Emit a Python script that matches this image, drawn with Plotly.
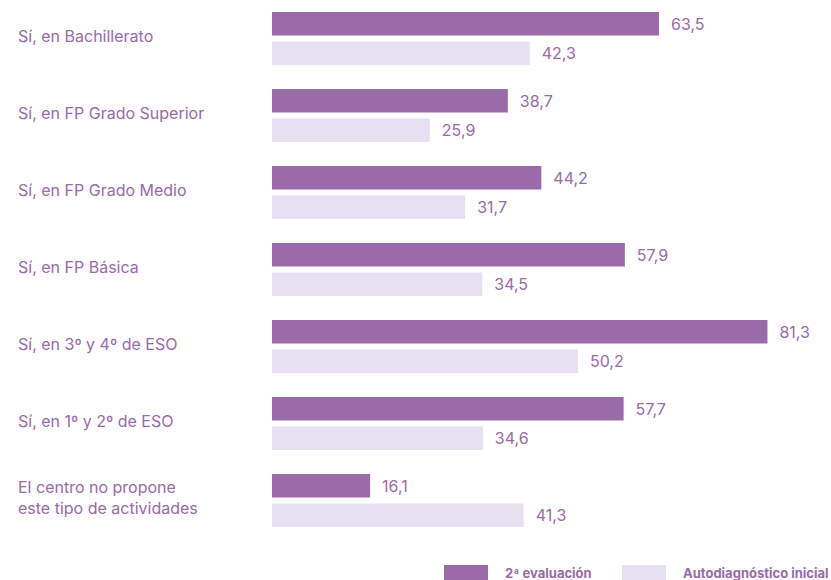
import plotly.graph_objects as go

categories = [
    "Sí, en Bachillerato",
    "Sí, en FP Grado Superior",
    "Sí, en FP Grado Medio",
    "Sí, en FP Básica",
    "Sí, en 3º y 4º de ESO",
    "Sí, en 1º y 2º de ESO",
    "El centro no propone<br>este tipo de actividades",
]
segunda = [63.5, 38.7, 44.2, 57.9, 81.3, 57.7, 16.1]
inicial = [42.3, 25.9, 31.7, 34.5, 50.2, 34.6, 41.3]
series_names = ["2ª evaluación", "Autodiagnóstico inicial"]

DARK = "#9a6aa9"
LIGHT = "#e7e0f0"
TXT = "#9a6aa9"
FONT = "Inter, Arial, sans-serif"

W, H = 831, 580
L, R, T, B = 272, 5, 0, 41
PW = W - L - R


def px_x(p):
    return (p - L) / PW


def px_y(p):
    return 1 - (p - T) / (H - T - B)


fig = go.Figure()
for name, vals, col in [(series_names[0], segunda, DARK), (series_names[1], inicial, LIGHT)]:
    fig.add_trace(go.Bar(
        y=categories, x=vals, orientation="h", name=name,
        marker=dict(color=col, line=dict(width=0)),
        text=[f"\u00a0\u00a0{v:.1f}".replace(".", ",") for v in vals],
        textposition="outside", cliponaxis=False,
        textfont=dict(color=TXT, size=16, family=FONT),
        showlegend=False, hoverinfo="skip",
    ))

# category labels, left aligned
for c in categories:
    fig.add_annotation(x=px_x(16), xref="paper", y=c, yref="y", yshift=3, text=c,
                       xanchor="left", yanchor="middle", align="left", showarrow=False,
                       font=dict(color=TXT, size=16, family=FONT))

# legend drawn by hand
for (x0, x1, tx, col, name) in [(444, 488, 503, DARK, series_names[0]),
                                  (622, 666, 681, LIGHT, series_names[1])]:
    fig.add_shape(type="rect", xref="paper", yref="paper",
                  x0=px_x(x0), x1=px_x(x1), y0=px_y(580), y1=px_y(565),
                  fillcolor=col, line=dict(width=0))
    fig.add_annotation(x=px_x(tx), xref="paper", y=px_y(573), yref="paper",
                       text=f"<b>{name}</b>", xanchor="left", yanchor="middle",
                       showarrow=False, font=dict(color=TXT, size=13, family=FONT))

fig.update_layout(
    width=W, height=H,
    margin=dict(l=L, r=R, t=T, b=B),
    paper_bgcolor="white", plot_bgcolor="white",
    font=dict(family=FONT, size=16, color=TXT),
    barmode="group", bargap=0.234, bargroupgap=0.2,
    separators=",.",
)
fig.update_xaxes(range=[0, PW / 6.094], visible=False, showgrid=False, zeroline=False)
fig.update_yaxes(autorange="reversed", showticklabels=False, showgrid=False,
                 zeroline=False, showline=False, ticks="")

fig.write_html("out.html", config={"displayModeBar": False},
               post_script="document.body.style.margin='0px';")
